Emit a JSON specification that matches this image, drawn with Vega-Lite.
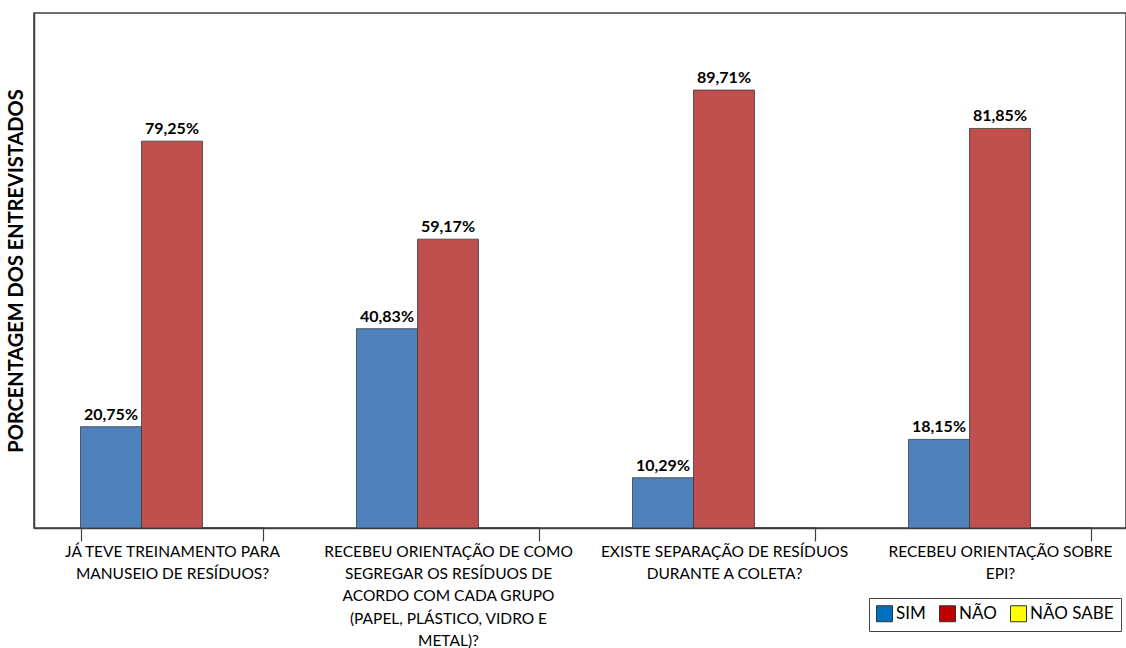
{
  "$schema": "https://vega.github.io/schema/vega-lite/v6.json",
  "width": 1092,
  "height": 515,
  "autosize": "none",
  "padding": {"top": 13, "left": 34, "right": 0, "bottom": 120},
  "background": "white",
  "data": {
    "values": [
      {"pergunta": "JÁ TEVE TREINAMENTO PARA|MANUSEIO DE RESÍDUOS?", "resposta": "SIM", "valor": 20.75, "rotulo": "20,75%"},
      {"pergunta": "JÁ TEVE TREINAMENTO PARA|MANUSEIO DE RESÍDUOS?", "resposta": "NÃO", "valor": 79.25, "rotulo": "79,25%"},
      {"pergunta": "JÁ TEVE TREINAMENTO PARA|MANUSEIO DE RESÍDUOS?", "resposta": "NÃO SABE", "valor": 0, "rotulo": ""},
      {"pergunta": "RECEBEU ORIENTAÇÃO DE COMO|SEGREGAR OS RESÍDUOS DE|ACORDO COM CADA GRUPO|(PAPEL, PLÁSTICO, VIDRO E|METAL)?", "resposta": "SIM", "valor": 40.83, "rotulo": "40,83%"},
      {"pergunta": "RECEBEU ORIENTAÇÃO DE COMO|SEGREGAR OS RESÍDUOS DE|ACORDO COM CADA GRUPO|(PAPEL, PLÁSTICO, VIDRO E|METAL)?", "resposta": "NÃO", "valor": 59.17, "rotulo": "59,17%"},
      {"pergunta": "RECEBEU ORIENTAÇÃO DE COMO|SEGREGAR OS RESÍDUOS DE|ACORDO COM CADA GRUPO|(PAPEL, PLÁSTICO, VIDRO E|METAL)?", "resposta": "NÃO SABE", "valor": 0, "rotulo": ""},
      {"pergunta": "EXISTE SEPARAÇÃO DE RESÍDUOS|DURANTE A COLETA?", "resposta": "SIM", "valor": 10.29, "rotulo": "10,29%"},
      {"pergunta": "EXISTE SEPARAÇÃO DE RESÍDUOS|DURANTE A COLETA?", "resposta": "NÃO", "valor": 89.71, "rotulo": "89,71%"},
      {"pergunta": "EXISTE SEPARAÇÃO DE RESÍDUOS|DURANTE A COLETA?", "resposta": "NÃO SABE", "valor": 0, "rotulo": ""},
      {"pergunta": "RECEBEU ORIENTAÇÃO SOBRE|EPI?", "resposta": "SIM", "valor": 18.15, "rotulo": "18,15%"},
      {"pergunta": "RECEBEU ORIENTAÇÃO SOBRE|EPI?", "resposta": "NÃO", "valor": 81.85, "rotulo": "81,85%"},
      {"pergunta": "RECEBEU ORIENTAÇÃO SOBRE|EPI?", "resposta": "NÃO SABE", "valor": 0, "rotulo": ""}
    ]
  },
  "encoding": {
    "x": {
      "field": "pergunta",
      "type": "nominal",
      "sort": null,
      "scale": {"range": [0, 1104], "paddingInner": 0.337, "paddingOuter": 0.1685},
      "axis": {
        "title": null,
        "labelExpr": "split(datum.label, '|')",
        "labelAngle": 0,
        "labelLimit": 0,
        "labelFont": "Lato",
        "labelFontSize": 15.5,
        "labelColor": "#000000",
        "labelLineHeight": 22.4,
        "labelPadding": 3,
        "tickBand": "extent",
        "tickSize": 13,
        "tickColor": "#404040",
        "domainColor": "#404040",
        "domainWidth": 1.5,
        "tickWidth": 1.2
      }
    },
    "xOffset": {
      "field": "resposta",
      "type": "nominal",
      "sort": ["SIM", "NÃO", "NÃO SABE"],
      "scale": {"paddingInner": 0, "paddingOuter": 0}
    },
    "y": {
      "field": "valor",
      "type": "quantitative",
      "scale": {"domain": [0, 105.5], "nice": false, "zero": true},
      "axis": {
        "title": "PORCENTAGEM DOS ENTREVISTADOS",
        "titleFont": "Lato",
        "titleFontSize": 20,
        "titleFontWeight": "bold",
        "titleColor": "#000000",
        "titlePadding": 8,
        "labels": false,
        "ticks": false,
        "grid": false,
        "domainColor": "#404040",
        "domainWidth": 1.5
      }
    }
  },
  "layer": [
    {
      "mark": {"type": "bar", "stroke": "#3a3a3a", "strokeWidth": 0.8},
      "encoding": {
        "fill": {
          "field": "resposta",
          "type": "nominal",
          "scale": {"domain": ["NÃO", "SIM", "NÃO SABE"], "range": ["#C0504D", "#4F81BD", "#FFFF00"]},
          "legend": null
        }
      }
    },
    {
      "mark": {"type": "bar", "strokeWidth": 0},
      "encoding": {
        "y": {"datum": 0, "type": "quantitative"},
        "color": {
          "field": "resposta",
          "type": "nominal",
          "scale": {"domain": ["SIM", "NÃO", "NÃO SABE"], "range": ["#0070C0", "#C00000", "#FFFF00"]},
          "legend": {
            "title": null,
            "orient": "none",
            "legendX": 835,
            "legendY": 585,
            "direction": "horizontal",
            "symbolType": "square",
            "symbolSize": 256,
            "symbolStrokeWidth": 1,
            "symbolStrokeColor": "#333333",
            "symbolOpacity": 1,
            "labelFont": "Lato",
            "labelFontSize": 17,
            "labelColor": "#000000",
            "labelOffset": 3,
            "columnPadding": 11,
            "padding": 7,
            "strokeColor": "#444444",
            "fillColor": "#ffffff"
          }
        }
      }
    },
    {
      "transform": [{"filter": "datum.valor > 0"}],
      "mark": {"type": "text", "baseline": "bottom", "dy": -4, "font": "Lato", "fontSize": 16, "fontWeight": "bold", "color": "#000000"},
      "encoding": {
        "text": {"field": "rotulo", "type": "nominal"}
      }
    }
  ],
  "config": {
    "view": {"stroke": "#404040", "strokeWidth": 1.5}
  }
}
